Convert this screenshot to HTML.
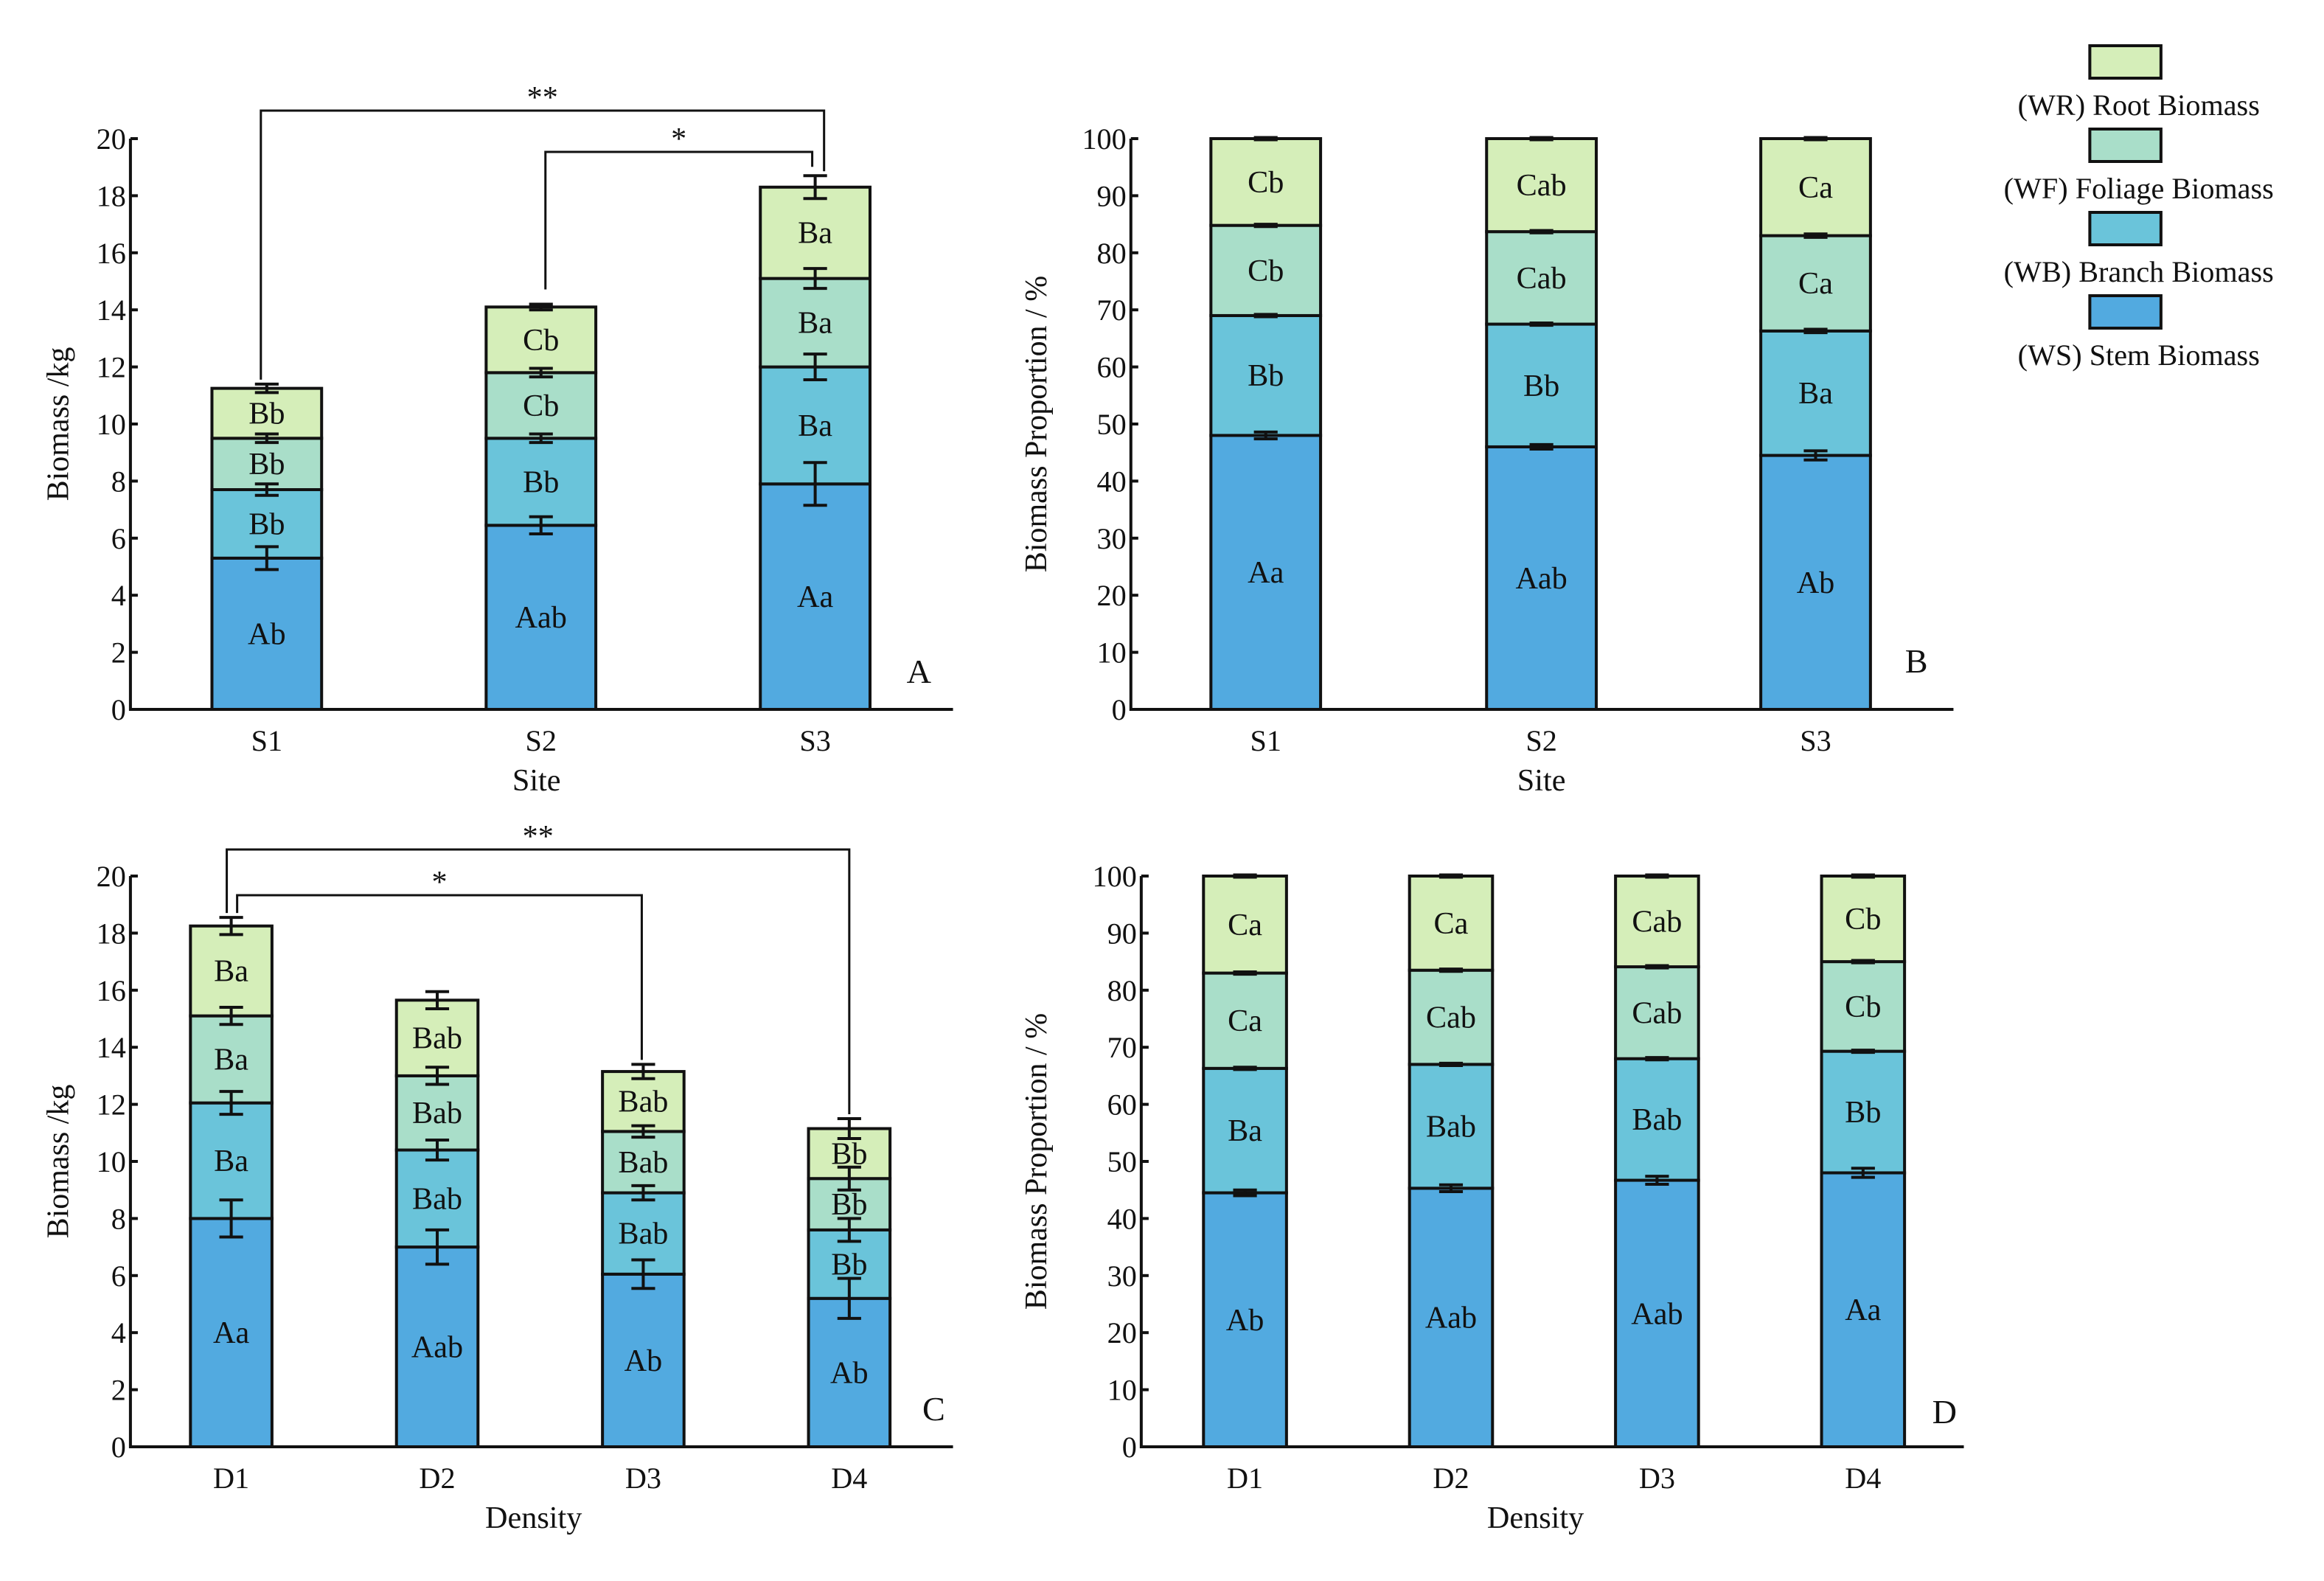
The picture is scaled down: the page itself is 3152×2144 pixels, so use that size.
<!DOCTYPE html>
<html><head><meta charset="utf-8"><style>
html,body{margin:0;padding:0;background:#fff;}
svg{display:block;font-family:"Liberation Serif",serif;}
</style></head><body>
<svg id="fig" width="3152" height="2144" viewBox="0 0 1568 1072" preserveAspectRatio="none" xmlns="http://www.w3.org/2000/svg"></svg>
<script>
// ---- data ----
const siteCats = ["S1","S2","S3"];
const densCats = ["D1","D2","D3","D4"];
const seriesNames = ["stem","branch","foliage","root"];
// Panel A cumulative tops (kg)
const aStem = [5.3, 6.45, 7.9];
const aBranch = [7.7, 9.5, 12.0];
const aFoliage = [9.5, 11.8, 15.1];
const aRoot = [11.25, 14.1, 18.3];
const aErr = [[0.4,0.3,0.75],[0.2,0.15,0.45],[0.15,0.15,0.35],[0.15,0.1,0.4]];
const aLabels = [["Ab","Aab","Aa"],["Bb","Bb","Ba"],["Bb","Cb","Ba"],["Bb","Cb","Ba"]];
// Panel B cumulative (%)
const bStem = [48, 46, 44.5];
const bBranch = [69, 67.5, 66.3];
const bFoliage = [84.8, 83.7, 83];
const bRoot = [100, 100, 100];
const bErr = [[0.6,0.4,0.8],[0.2,0.2,0.3],[0.2,0.2,0.3],[0.2,0.2,0.2]];
const bLabels = [["Aa","Aab","Ab"],["Bb","Bb","Ba"],["Cb","Cab","Ca"],["Cb","Cab","Ca"]];
// Panel C cumulative (kg)
const cStem = [8.0, 7.0, 6.05, 5.2];
const cBranch = [12.05, 10.4, 8.9, 7.6];
const cFoliage = [15.1, 13.0, 11.05, 9.4];
const cRoot = [18.25, 15.65, 13.15, 11.15];
const cErr = [[0.65,0.6,0.5,0.7],[0.4,0.35,0.25,0.4],[0.3,0.3,0.2,0.4],[0.3,0.3,0.25,0.35]];
const cLabels = [["Aa","Aab","Ab","Ab"],["Ba","Bab","Bab","Bb"],["Ba","Bab","Bab","Bb"],["Ba","Bab","Bab","Bb"]];
// Panel D cumulative (%)
const dStem = [44.5, 45.3, 46.7, 48];
const dBranch = [66.3, 67, 68, 69.3];
const dFoliage = [83, 83.5, 84.1, 85];
const dRoot = [100, 100, 100, 100];
const dErr = [[0.5,0.6,0.7,0.8],[0.2,0.2,0.2,0.2],[0.2,0.2,0.2,0.2],[0.2,0.2,0.2,0.2]];
const dLabels = [["Ab","Aab","Aab","Aa"],["Ba","Bab","Bab","Bb"],["Ca","Cab","Cab","Cb"],["Ca","Ca","Cab","Cb"]];
const kgTicks = [0,2,4,6,8,10,12,14,16,18,20];
const pctTicks = [0,10,20,30,40,50,60,70,80,90,100];
const colors = ["#52aae0","#6ac4da","#a9dec9","#d5eeb9"];

const svg = document.getElementById('fig');
const NS = "http://www.w3.org/2000/svg";
function mk(tag, attrs, parent){
  const e = document.createElementNS(NS, tag);
  for (const k in attrs) e.setAttribute(k, attrs[k]);
  (parent||svg).appendChild(e);
  return e;
}
function txt(s, x, y, size, parent, anchor){
  const t = mk('text', {x:x, y:y, 'font-size':size, 'text-anchor':anchor||'middle', fill:'#111'}, parent);
  t.textContent = s;
  return t;
}

function panel(cfg){
  const g = mk('g', {});
  
  
  const y = v => cfg.y0 - (v - 0) / cfg.max * (cfg.y0 - cfg.y1);
  cfg.ticks.forEach(t => {
    mk('line', {x1:cfg.ax, x2:cfg.ax+5, y1:y(t), y2:y(t), stroke:'#111','stroke-width':2}, g);
    const lbl = txt(String(t), cfg.ax-3, y(t)+7, 20, g, 'end');
    
    
  });
  const cums = cfg.cums;
  cfg.cats.forEach((c, i) => {
    const cx = cfg.cx[i];
    let prev = 0;
    for (let s = 0; s < 4; s++) {
      const top = cums[s][i];
      const r = mk('rect', {x:cx-cfg.bw/2, y:y(top), width:cfg.bw, height:y(prev)-y(top), fill:colors[s], stroke:'#111','stroke-width':2}, g);
      
      
      const l = txt(cfg.labels[s][i], cx, (y(top)+y(prev))/2 + 7, 21, g);
      
      
      prev = top;
    }
    for (let s = 0; s < 4; s++) {
      const top = cums[s][i], e = cfg.err[s][i];
      const eb = mk('path', {d:`M${cx-8},${y(top+e)}H${cx+8}M${cx},${y(top+e)}V${y(top-e)}M${cx-8},${y(top-e)}H${cx+8}`, stroke:'#111','stroke-width':2, fill:'none'}, g);
      
      
    }
    const xl = txt(c, cx, cfg.y0+28, 20, g);
    
    
  });
  const axes = mk('path', {d:`M${cfg.ax},${y(cfg.max)}V${cfg.y0}H${cfg.axEnd}`, stroke:'#111','stroke-width':2, fill:'none'}, g);
  
  
  const xt = txt(cfg.xTitle, cfg.xtx, cfg.y0+55, 21, g);
  
  
  const yt = txt(cfg.yTitle, 0, 0, 21, g);
  yt.setAttribute('transform', `translate(${cfg.ytx},${(cfg.y0+cfg.y1)/2}) rotate(-90)`);
  
  
  const pl = txt(cfg.letter, cfg.lx, cfg.ly, 23, g);
  
  
  return y;
}

const yA = panel({name:'panel-a', cats:siteCats, cums:[aStem,aBranch,aFoliage,aRoot], err:aErr, labels:aLabels,
  ax:88, axEnd:643, y0:481, y1:94, max:20, ticks:kgTicks, cx:[180,365,550], bw:74,
  xTitle:'Site', xtx:362, yTitle:'Biomass /kg', ytx:46, letter:'A', lx:620, ly:463});
panel({name:'panel-b', cats:siteCats, cums:[bStem,bBranch,bFoliage,bRoot], err:bErr, labels:bLabels,
  ax:763, axEnd:1318, y0:481, y1:94, max:100, ticks:pctTicks, cx:[854,1040,1225], bw:74,
  xTitle:'Site', xtx:1040, yTitle:'Biomass Proportion / %', ytx:706, letter:'B', lx:1293, ly:456});
const yC = panel({name:'panel-c', cats:densCats, cums:[cStem,cBranch,cFoliage,cRoot], err:cErr, labels:cLabels,
  ax:88, axEnd:643, y0:981, y1:594, max:20, ticks:kgTicks, cx:[156,295,434,573], bw:55,
  xTitle:'Density', xtx:360, yTitle:'Biomass /kg', ytx:46, letter:'C', lx:630, ly:963});
panel({name:'panel-d', cats:densCats, cums:[dStem,dBranch,dFoliage,dRoot], err:dErr, labels:dLabels,
  ax:770, axEnd:1325, y0:981, y1:594, max:100, ticks:pctTicks, cx:[840,979,1118,1257], bw:56,
  xTitle:'Density', xtx:1036, yTitle:'Biomass Proportion / %', ytx:706, letter:'D', lx:1312, ly:965});

function bracket(x1, yl, x2, yr, ytop, star, name){
  const p = mk('path', {d:`M${x1},${yl}V${ytop}H${x2}V${yr}`, stroke:'#111','stroke-width':1.5, fill:'none'});
  
  
  const t = txt(star, (x1+x2)/2, ytop-2, 21);
  
  
}
bracket(176, yA(aRoot[0]+aErr[3][0])-3, 556, yA(aRoot[2]+aErr[3][2])-3, 75, '**', 'bracket-s1-s3');
bracket(368, yA(aRoot[1]+aErr[3][1])-10, 548, yA(aRoot[2]+aErr[3][2])-6, 103, '*', 'bracket-s2-s3');
bracket(153, yC(cRoot[0]+cErr[3][0])-3, 573, yC(cRoot[3]+cErr[3][3])-3, 576, '**', 'bracket-d1-d4');
bracket(160, yC(cRoot[0]+cErr[3][0])-3, 433, yC(cRoot[2]+cErr[3][2])-3, 607, '*', 'bracket-d1-d3');

const legendNames = ["(WR) Root Biomass","(WF) Foliage Biomass","(WB) Branch Biomass","(WS) Stem Biomass"];
const legendColors = [colors[3], colors[2], colors[1], colors[0]];
const lg = mk('g', {});


legendNames.forEach((n, i) => {
  const top = 31 + i*56.5;
  const r = mk('rect', {x:1410, y:top, width:48, height:22, fill:legendColors[i], stroke:'#111','stroke-width':2}, lg);
  
  
  const t = txt(n, 1443, top+47, 20, lg);
  
  
});
</script>
</body></html>
